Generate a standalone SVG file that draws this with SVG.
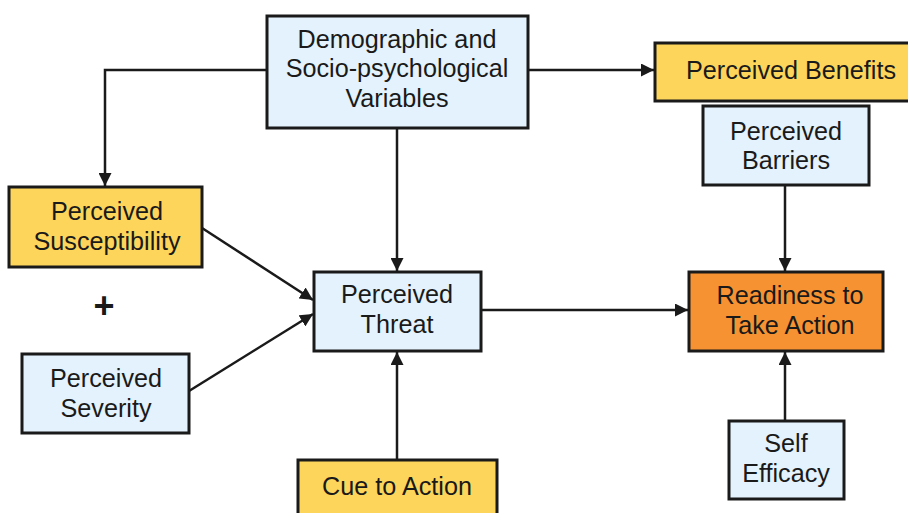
<svg xmlns="http://www.w3.org/2000/svg" width="908" height="513" viewBox="0 0 908 513">
<defs>
<marker id="ah" viewBox="0 0 13 13" refX="13" refY="6.5" markerWidth="13" markerHeight="13" markerUnits="userSpaceOnUse" orient="auto">
<path d="M0,0 L13,6.5 L0,13 Z" fill="#1a1a1a"/>
</marker>
</defs>
<style>
.box{stroke:#1a1a1a;stroke-width:3}
.y{fill:#FDD55B}
.b{fill:#E3F2FC}
.o{fill:#F79233}
text{font-family:"Liberation Sans",Arial,sans-serif;font-size:25.2px;fill:#1a1a1a;text-anchor:middle}
.c{fill:none;stroke:#1a1a1a;stroke-width:2.5;marker-end:url(#ah)}
</style>
<rect width="908" height="513" fill="#ffffff"/>
<g id="connectors">
<path class="c" d="M267,70 H105 V186"/>
<path class="c" d="M528,70 H654"/>
<path class="c" d="M397,128 V271"/>
<path class="c" d="M202,228 L313,300"/>
<path class="c" d="M189,391 L313,314"/>
<path class="c" d="M397,460 V352"/>
<path class="c" d="M481,310 H688"/>
<path class="c" d="M785,185 V271"/>
<path class="c" d="M785,421 V352"/>
</g>
<g id="demographic">
<rect class="box b" x="267" y="16" width="261" height="112"/>
<text x="397" y="48">Demographic and</text>
<text x="397" y="77">Socio-psychological</text>
<text x="397" y="107">Variables</text>
</g>
<g id="benefits">
<rect class="box y" x="655" y="43" width="258" height="58"/>
<text x="791" y="79">Perceived Benefits</text>
</g>
<g id="barriers">
<rect class="box b" x="703" y="106" width="166" height="79"/>
<text x="786" y="140">Perceived</text>
<text x="786" y="169">Barriers</text>
</g>
<g id="susceptibility">
<rect class="box y" x="9" y="187" width="193" height="80"/>
<text x="107" y="220">Perceived</text>
<text x="107" y="250">Susceptibility</text>
</g>
<g id="plus">
<text x="104" y="318" style="font-size:36px;font-weight:bold">+</text>
</g>
<g id="severity">
<rect class="box b" x="22" y="354" width="167" height="79"/>
<text x="106" y="387">Perceived</text>
<text x="106" y="417">Severity</text>
</g>
<g id="threat">
<rect class="box b" x="314" y="272" width="167" height="79"/>
<text x="397" y="303">Perceived</text>
<text x="397" y="333">Threat</text>
</g>
<g id="readiness">
<rect class="box o" x="689" y="272" width="194" height="79"/>
<text x="790" y="304">Readiness to</text>
<text x="790" y="334">Take Action</text>
</g>
<g id="cue">
<rect class="box y" x="298" y="460" width="199" height="60"/>
<text x="397" y="495">Cue to Action</text>
</g>
<g id="efficacy">
<rect class="box b" x="729" y="421" width="115" height="78"/>
<text x="786" y="452">Self</text>
<text x="786" y="482">Efficacy</text>
</g>
</svg>
